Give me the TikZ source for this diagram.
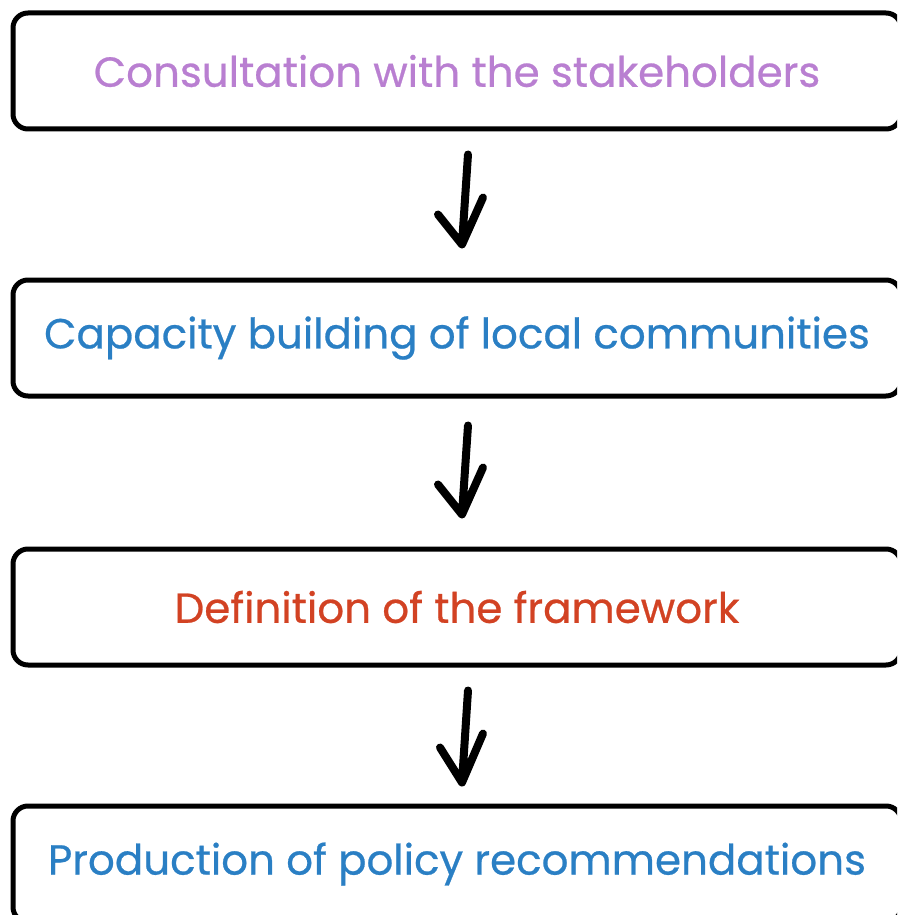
\documentclass[tikz,border=0pt]{standalone}
\usepackage{fontspec}
\setmainfont{Poppins}[FakeBold=0.6]
\usetikzlibrary{calc}
\definecolor{lilas}{HTML}{B97FD1}
\definecolor{azul}{HTML}{2A7FC4}
\definecolor{telha}{HTML}{D24223}
\tikzset{
	etapa/.style={draw,line width=5pt,rounded corners=15pt,minimum width=888pt,minimum height=116pt,font=\fontsize{42}{48}\selectfont},
	seta/.style={line width=8pt,line cap=round,line join=round}
}

\begin{document}
\begin{tikzpicture}[x=1pt,y=-1pt]
			\useasboundingbox (0,0) rectangle (897,915);
			\clip (0,0) rectangle (897,915);
			\node [etapa,text=lilas] (etapa1) at (457,71) {Consultation with the stakeholders};
			\node [etapa,text=azul] (etapa2) at (457,338) {Capacity building of local communities};
			\node [etapa,text=telha] (etapa3) at (457,607) {Definition of the framework};
			\node [etapa,text=azul] (etapa4) at (457,864) {Production of policy recommendations};
			
			\draw [seta] ($(etapa1.south)+(11,23)$) coordinate (s1) -- ($(etapa2.north)+(5,-33)$) coordinate (p1)
			             ++(-24,-30) -- (p1) -- ++(21,-47);
			\draw [seta] ($(etapa2.south)+(11,27)$) coordinate (s2) -- ($(etapa3.north)+(5,-32)$) coordinate (p2)
			             ++(-24,-30) -- (p2) -- ++(21,-47);
			\draw [seta] ($(etapa3.south)+(11,23)$) coordinate (s3) -- ($(etapa4.north)+(5,-21)$) coordinate (p3)
			             ++(-22,-35) -- (p3) -- ++(21,-49);
		\end{tikzpicture}
\end{document}
